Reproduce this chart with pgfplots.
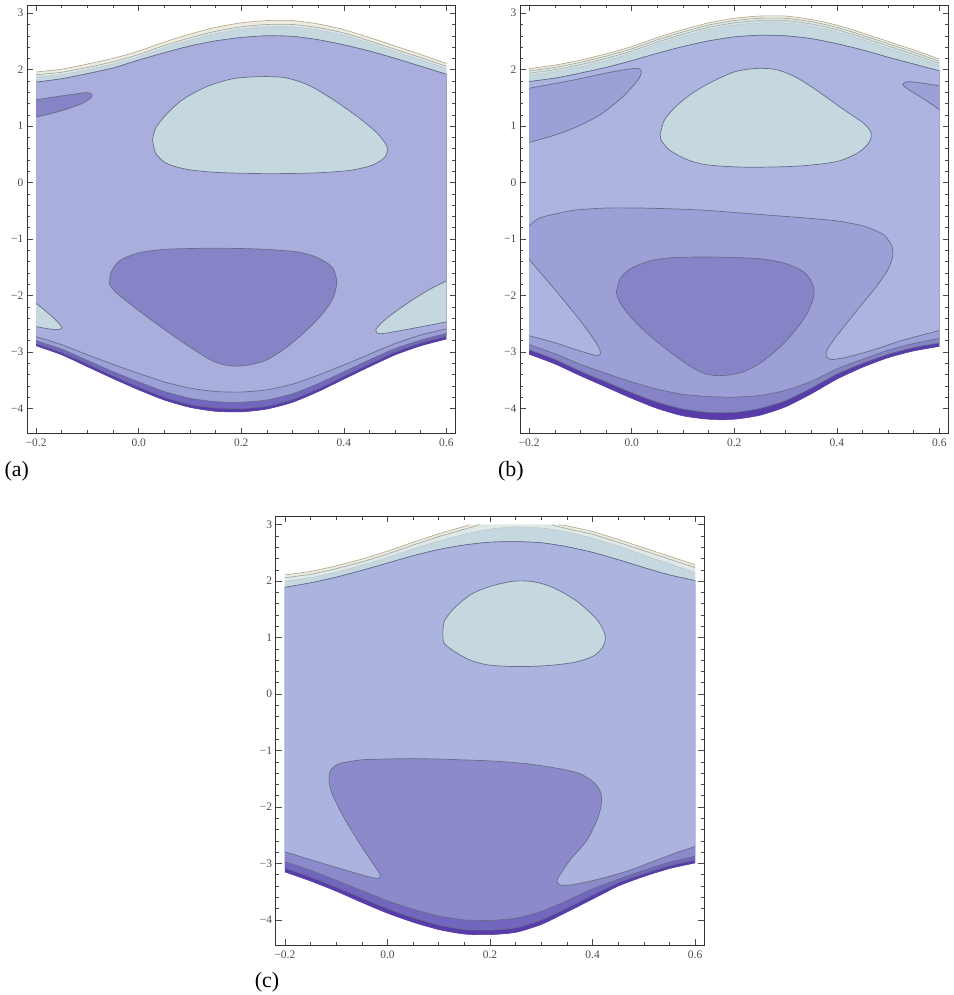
\documentclass[border=0pt]{standalone}
\usepackage{fontspec}
\setmainfont{Liberation Serif}
\usepackage{pgfplots}
\pgfplotsset{compat=1.18}
\usepgfplotslibrary{fillbetween}

\definecolor{cT0}{HTML}{EEEBE0}
\definecolor{cT1}{HTML}{DFE8E6}
\definecolor{cT2}{HTML}{C5D8E0}
\definecolor{cMainA}{HTML}{A9AEDC}
\definecolor{cMainB}{HTML}{ADB4E0}
\definecolor{cMainC}{HTML}{ACB3DF}
\definecolor{cMed}{HTML}{9DA0D7}
\definecolor{cDark}{HTML}{8783C7}
\definecolor{cDarkC}{HTML}{8D8ACB}
\definecolor{cB1}{HTML}{7266BE}
\definecolor{cB0}{HTML}{583CAA}
\definecolor{lTan}{HTML}{B0A48A}
\definecolor{lGreen}{HTML}{98A69E}
\definecolor{lCont}{HTML}{646E88}

\pgfplotsset{
 panel/.style={scale only axis, width=430pt, height=430pt, anchor=south west,
   xmin=-0.218, xmax=0.618, ymin=-4.447, ymax=3.146,
   xtick={-0.2,0,0.2,0.4,0.6}, xticklabels={−0.2,0.0,0.2,0.4,0.6},
   ytick={-4,-3,-2,-1,0,1,2,3}, yticklabels={−4,−3,−2,−1,0,1,2,3},
   minor x tick num=3, minor y tick num=4,
   tick align=inside, major tick length=6pt, minor tick length=3.5pt,
   every tick/.style={black!70, line width=0.6pt},
   axis line style={black!80, line width=0.8pt},
   tick label style={font=\fontsize{11.5}{11.5}\selectfont, text=black!70},
   xticklabel style={yshift=-2pt},
   no markers, clip=true,
 },
 cl/.style={draw=lCont, line width=0.7pt, smooth, tension=0.4},
 sm/.style={smooth, tension=0.4},
 isl/.style={draw=lCont, line width=0.7pt, smooth, tension=0.5},
}

\begin{document}
\begin{tikzpicture}
\path (0pt,0pt) rectangle (956pt,-995pt);

% ---------------- (a) ----------------
\begin{axis}[panel, at={(27pt,-435pt)}]
\addplot[sm, draw=lTan, line width=0.6pt, name path=aT0] coordinates {(-0.2,1.96) (-0.15,2.01) (-0.1,2.10) (-0.05,2.20) (0,2.33) (0.05,2.49) (0.1,2.63) (0.15,2.75) (0.2,2.83) (0.25,2.87) (0.3,2.87) (0.35,2.81) (0.4,2.71) (0.45,2.57) (0.5,2.42) (0.55,2.27) (0.6,2.11)};
\addplot[sm, draw=lGreen, line width=0.6pt, name path=aT1] coordinates {(-0.2,1.91) (-0.15,1.955) (-0.1,2.04) (-0.05,2.14) (0,2.27) (0.05,2.43) (0.1,2.565) (0.15,2.68) (0.2,2.76) (0.25,2.80) (0.3,2.80) (0.35,2.745) (0.4,2.65) (0.45,2.51) (0.5,2.36) (0.55,2.215) (0.6,2.06)};
\addplot[sm, draw=lCont!40, line width=0.5pt, name path=aT2] coordinates {(-0.2,1.87) (-0.15,1.915) (-0.1,2.0) (-0.05,2.10) (0,2.23) (0.05,2.39) (0.1,2.525) (0.15,2.64) (0.2,2.72) (0.25,2.76) (0.3,2.76) (0.35,2.705) (0.4,2.61) (0.45,2.47) (0.5,2.32) (0.55,2.175) (0.6,2.02)};
\addplot[cl, name path=aT3] coordinates {(-0.2,1.78) (-0.15,1.84) (-0.1,1.93) (-0.05,2.03) (0,2.17) (0.05,2.30) (0.1,2.42) (0.15,2.51) (0.2,2.57) (0.25,2.60) (0.3,2.59) (0.35,2.53) (0.4,2.44) (0.45,2.33) (0.5,2.20) (0.55,2.06) (0.6,1.92)};
\addplot[cl, name path=aBm] coordinates {(-0.2,-2.73) (-0.15,-2.87) (-0.1,-3.05) (-0.05,-3.22) (0,-3.38) (0.05,-3.53) (0.1,-3.64) (0.15,-3.70) (0.2,-3.71) (0.25,-3.67) (0.3,-3.57) (0.35,-3.41) (0.4,-3.23) (0.45,-3.04) (0.5,-2.85) (0.55,-2.70) (0.6,-2.59)};
\addplot[cl, name path=aB2] coordinates {(-0.2,-2.80) (-0.15,-2.95) (-0.1,-3.15) (-0.05,-3.35) (0,-3.53) (0.05,-3.70) (0.1,-3.82) (0.15,-3.88) (0.2,-3.89) (0.25,-3.85) (0.3,-3.74) (0.35,-3.56) (0.4,-3.35) (0.45,-3.14) (0.5,-2.94) (0.55,-2.79) (0.6,-2.67)};
\addplot[cl, name path=aB1] coordinates {(-0.2,-2.85) (-0.15,-3.01) (-0.1,-3.21) (-0.05,-3.42) (0,-3.62) (0.05,-3.80) (0.1,-3.93) (0.15,-3.99) (0.2,-4.00) (0.25,-3.96) (0.3,-3.84) (0.35,-3.65) (0.4,-3.43) (0.45,-3.21) (0.5,-3.00) (0.55,-2.84) (0.6,-2.72)};
\addplot[sm, draw=cB0, line width=0.6pt, name path=aB0] coordinates {(-0.2,-2.89) (-0.15,-3.05) (-0.1,-3.26) (-0.05,-3.47) (0,-3.67) (0.05,-3.85) (0.1,-3.98) (0.15,-4.05) (0.2,-4.06) (0.25,-4.01) (0.3,-3.89) (0.35,-3.70) (0.4,-3.48) (0.45,-3.26) (0.5,-3.05) (0.55,-2.89) (0.6,-2.77)};
\addplot[fill=cT0, draw=none] fill between[of=aT0 and aB0];
\addplot[fill=cT1, draw=none] fill between[of=aT1 and aB0];
\addplot[fill=cT2, draw=none] fill between[of=aT2 and aB0];
\addplot[fill=cB0, draw=none] fill between[of=aT3 and aB0];
\addplot[fill=cB1, draw=none] fill between[of=aT3 and aB1];
\addplot[fill=cMed, draw=none] fill between[of=aT3 and aB2];
\addplot[fill=cMainA, draw=none] fill between[of=aT3 and aBm];
% islands
\addplot[isl, fill=cT2] coordinates {(0.027,0.76) (0.033,0.965) (0.053,1.20) (0.085,1.465) (0.130,1.69) (0.181,1.835) (0.233,1.876) (0.284,1.86) (0.330,1.73) (0.375,1.494) (0.426,1.171) (0.465,0.876) (0.484,0.641) (0.481,0.465) (0.458,0.318) (0.413,0.218) (0.342,0.171) (0.246,0.159) (0.149,0.182) (0.091,0.241) (0.053,0.347) (0.033,0.524) (0.027,0.76)};
\addplot[isl, fill=cDark] coordinates {(-0.2,1.465) (-0.173,1.506) (-0.141,1.547) (-0.115,1.582) (-0.099,1.594) (-0.091,1.559) (-0.094,1.494) (-0.112,1.394) (-0.141,1.30) (-0.173,1.218) (-0.2,1.159)};
\addplot[isl, fill=cT2] coordinates {(-0.2,-2.14) (-0.186,-2.24) (-0.167,-2.39) (-0.153,-2.52) (-0.150,-2.58) (-0.160,-2.605) (-0.179,-2.585) (-0.2,-2.55)};
\addplot[isl, fill=cT2] coordinates {(0.6,-1.741) (0.568,-1.888) (0.536,-2.065) (0.503,-2.271) (0.478,-2.447) (0.463,-2.594) (0.465,-2.665) (0.478,-2.671) (0.516,-2.612) (0.568,-2.524) (0.6,-2.465)};
\addplot[isl, fill=cDark] coordinates {(-0.057,-1.80) (-0.054,-1.594) (-0.038,-1.388) (0.001,-1.241) (0.053,-1.182) (0.117,-1.165) (0.181,-1.165) (0.246,-1.182) (0.310,-1.229) (0.349,-1.329) (0.378,-1.506) (0.386,-1.771) (0.378,-2.065) (0.355,-2.359) (0.323,-2.653) (0.284,-2.947) (0.246,-3.153) (0.207,-3.241) (0.175,-3.241) (0.143,-3.153) (0.091,-2.859) (0.040,-2.535) (-0.012,-2.182) (-0.044,-1.947) (-0.057,-1.80)};
\end{axis}

% ---------------- (b) ----------------
\begin{axis}[panel, at={(521.5pt,-435pt)}]
\addplot[sm, draw=lTan, line width=0.6pt, name path=bT0] coordinates {(-0.2,2.02) (-0.15,2.08) (-0.1,2.17) (-0.05,2.28) (0,2.41) (0.05,2.57) (0.1,2.71) (0.15,2.83) (0.2,2.91) (0.25,2.95) (0.3,2.95) (0.35,2.89) (0.4,2.79) (0.45,2.65) (0.5,2.50) (0.55,2.35) (0.6,2.19)};
\addplot[sm, draw=lGreen, line width=0.6pt, name path=bT1] coordinates {(-0.2,1.98) (-0.15,2.04) (-0.1,2.13) (-0.05,2.24) (0,2.37) (0.05,2.53) (0.1,2.67) (0.15,2.79) (0.2,2.87) (0.25,2.91) (0.3,2.91) (0.35,2.85) (0.4,2.75) (0.45,2.61) (0.5,2.46) (0.55,2.31) (0.6,2.15)};
\addplot[sm, draw=lGreen, line width=0.5pt, name path=bT1b] coordinates {(-0.2,1.94) (-0.15,2.00) (-0.1,2.09) (-0.05,2.20) (0,2.33) (0.05,2.49) (0.1,2.63) (0.15,2.75) (0.2,2.83) (0.25,2.87) (0.3,2.87) (0.35,2.81) (0.4,2.71) (0.45,2.57) (0.5,2.42) (0.55,2.27) (0.6,2.11)};
\addplot[sm, draw=lCont!40, line width=0.5pt, name path=bT2] coordinates {(-0.2,1.90) (-0.15,1.96) (-0.1,2.05) (-0.05,2.16) (0,2.29) (0.05,2.45) (0.1,2.59) (0.15,2.71) (0.2,2.79) (0.25,2.83) (0.3,2.83) (0.35,2.77) (0.4,2.67) (0.45,2.53) (0.5,2.38) (0.55,2.23) (0.6,2.07)};
\addplot[cl, name path=bT3] coordinates {(-0.2,1.79) (-0.15,1.85) (-0.1,1.94) (-0.05,2.04) (0,2.16) (0.05,2.29) (0.1,2.41) (0.15,2.51) (0.2,2.58) (0.25,2.61) (0.3,2.60) (0.35,2.55) (0.4,2.46) (0.45,2.35) (0.5,2.22) (0.55,2.10) (0.6,1.98)};
\addplot[cl, name path=bBm] coordinates {(-0.2,-0.77) (-0.178,-0.62) (-0.113,-0.49) (-0.049,-0.45) (0.015,-0.45) (0.080,-0.465) (0.144,-0.49) (0.208,-0.535) (0.272,-0.58) (0.337,-0.625) (0.401,-0.68) (0.452,-0.77) (0.491,-0.92) (0.507,-1.12) (0.509,-1.30) (0.500,-1.535) (0.478,-1.83) (0.452,-2.12) (0.420,-2.48) (0.395,-2.77) (0.380,-2.98) (0.380,-3.09) (0.391,-3.135) (0.420,-3.09) (0.465,-2.98) (0.529,-2.79) (0.6,-2.62)};
\addplot[cl, name path=bB2] coordinates {(-0.2,-2.87) (-0.15,-3.03) (-0.1,-3.22) (-0.05,-3.38) (0,-3.53) (0.05,-3.66) (0.1,-3.75) (0.15,-3.79) (0.2,-3.80) (0.25,-3.77) (0.3,-3.68) (0.35,-3.52) (0.4,-3.30) (0.45,-3.13) (0.5,-2.97) (0.55,-2.85) (0.6,-2.76)};
\addplot[cl, name path=bB1] coordinates {(-0.2,-2.96) (-0.15,-3.13) (-0.1,-3.34) (-0.05,-3.53) (0,-3.72) (0.05,-3.89) (0.1,-4.01) (0.15,-4.07) (0.2,-4.07) (0.25,-4.0) (0.3,-3.86) (0.35,-3.64) (0.4,-3.39) (0.45,-3.20) (0.5,-3.04) (0.55,-2.92) (0.6,-2.84)};
\addplot[sm, draw=cB0, line width=0.6pt, name path=bB0] coordinates {(-0.2,-3.04) (-0.15,-3.21) (-0.1,-3.42) (-0.05,-3.62) (0,-3.82) (0.05,-4.0) (0.1,-4.13) (0.15,-4.19) (0.2,-4.19) (0.25,-4.12) (0.3,-3.97) (0.35,-3.74) (0.4,-3.48) (0.45,-3.27) (0.5,-3.10) (0.55,-2.98) (0.6,-2.90)};
\addplot[fill=cT0, draw=none] fill between[of=bT0 and bB0];
\addplot[fill=cT1, draw=none] fill between[of=bT1 and bB0];
\addplot[fill=cT1!60!cT2, draw=none] fill between[of=bT1b and bB0];
\addplot[fill=cT2, draw=none] fill between[of=bT2 and bB0];
\addplot[fill=cB0, draw=none] fill between[of=bT3 and bB0];
\addplot[fill=cDark, draw=none] fill between[of=bT3 and bB1];
\addplot[fill=cMed, draw=none] fill between[of=bT3 and bB2];
\addplot[fill=cMainB, draw=none] fill between[of=bT3 and bBm];
% islands
\addplot[isl, fill=cMed] coordinates {(-0.2,1.671) (-0.113,1.818) (-0.036,1.965) (0.009,2.024) (0.0185,1.965) (0.012,1.818) (-0.017,1.524) (-0.062,1.20) (-0.113,0.965) (-0.158,0.818) (-0.2,0.712)};
\addplot[isl, fill=cMed] coordinates {(0.6,1.712) (0.568,1.759) (0.539,1.788) (0.529,1.747) (0.536,1.671) (0.562,1.524) (0.587,1.376) (0.6,1.288)};
\addplot[isl, fill=cT2] coordinates {(0.056,0.876) (0.064,1.112) (0.086,1.347) (0.118,1.582) (0.157,1.788) (0.202,1.965) (0.247,2.024) (0.285,1.994) (0.324,1.847) (0.369,1.582) (0.414,1.288) (0.452,1.053) (0.467,0.876) (0.462,0.70) (0.440,0.524) (0.401,0.376) (0.337,0.30) (0.272,0.276) (0.208,0.276) (0.144,0.318) (0.105,0.418) (0.073,0.582) (0.057,0.759) (0.056,0.876)};
\addplot[isl, fill=cMainB] coordinates {(-0.2,-1.359) (-0.178,-1.594) (-0.145,-1.947) (-0.113,-2.30) (-0.088,-2.594) (-0.068,-2.859) (-0.061,-3.006) (-0.065,-3.065) (-0.081,-3.035) (-0.113,-2.947) (-0.152,-2.829) (-0.2,-2.712)};
\addplot[isl, fill=cDark] coordinates {(-0.030,-1.947) (-0.023,-1.712) (-0.004,-1.535) (0.035,-1.388) (0.080,-1.329) (0.144,-1.318) (0.208,-1.329) (0.260,-1.359) (0.305,-1.447) (0.337,-1.594) (0.353,-1.80) (0.355,-2.006) (0.343,-2.30) (0.321,-2.594) (0.292,-2.888) (0.253,-3.182) (0.215,-3.359) (0.176,-3.418) (0.144,-3.388) (0.112,-3.241) (0.067,-2.947) (0.028,-2.653) (-0.004,-2.359) (-0.023,-2.124) (-0.030,-1.947)};
\end{axis}

% ---------------- (c) ----------------
\begin{axis}[panel, at={(276.5pt,-948pt)}]
\addplot[draw=none, name path=cT0] coordinates {(-0.2,2.11) (-0.15,2.17) (-0.1,2.27) (-0.05,2.39) (0,2.53) (0.05,2.69) (0.1,2.84) (0.15,2.97) (0.16,3.0) (0.335,3.0) (0.35,2.98) (0.4,2.88) (0.45,2.74) (0.5,2.59) (0.55,2.44) (0.6,2.29)};
\addplot[draw=none, name path=cT1] coordinates {(-0.2,2.06) (-0.15,2.12) (-0.1,2.22) (-0.05,2.34) (0,2.48) (0.05,2.64) (0.1,2.79) (0.15,2.92) (0.18,3.0) (0.32,3.0) (0.35,2.93) (0.4,2.83) (0.45,2.69) (0.5,2.54) (0.55,2.39) (0.6,2.24)};
\addplot[draw=lTan, line width=0.6pt] coordinates {(-0.2,2.11) (-0.15,2.17) (-0.1,2.27) (-0.05,2.39) (0,2.53) (0.05,2.69) (0.1,2.84) (0.15,2.97) (0.16,3.0)};
\addplot[draw=lTan, line width=0.6pt] coordinates {(0.335,3.0) (0.35,2.98) (0.4,2.88) (0.45,2.74) (0.5,2.59) (0.55,2.44) (0.6,2.29)};
\addplot[draw=lGreen, line width=0.6pt] coordinates {(-0.2,2.06) (-0.15,2.12) (-0.1,2.22) (-0.05,2.34) (0,2.48) (0.05,2.64) (0.1,2.79) (0.15,2.92) (0.18,3.0)};
\addplot[draw=lGreen, line width=0.6pt] coordinates {(0.32,3.0) (0.35,2.93) (0.4,2.83) (0.45,2.69) (0.5,2.54) (0.55,2.39) (0.6,2.24)};
\addplot[sm, draw=lCont!40, line width=0.5pt, name path=cT2] coordinates {(-0.2,2.0) (-0.15,2.06) (-0.1,2.16) (-0.05,2.28) (0,2.42) (0.05,2.57) (0.1,2.71) (0.15,2.83) (0.2,2.92) (0.25,2.96) (0.3,2.94) (0.35,2.87) (0.4,2.76) (0.45,2.62) (0.5,2.46) (0.55,2.31) (0.6,2.15)};
\addplot[cl, name path=cT3] coordinates {(-0.2,1.89) (-0.15,1.97) (-0.1,2.07) (-0.05,2.19) (0,2.32) (0.05,2.45) (0.1,2.56) (0.15,2.64) (0.2,2.69) (0.25,2.70) (0.3,2.68) (0.35,2.61) (0.4,2.51) (0.45,2.38) (0.5,2.24) (0.55,2.11) (0.6,2.01)};
\addplot[cl, name path=cBm] coordinates {(-0.2,-2.794) (-0.147,-2.941) (-0.082,-3.118) (-0.037,-3.235) (-0.018,-3.265) (-0.014,-3.206) (-0.024,-3.059) (-0.050,-2.706) (-0.082,-2.235) (-0.108,-1.765) (-0.114,-1.529) (-0.111,-1.353) (-0.095,-1.235) (-0.050,-1.165) (0.015,-1.147) (0.079,-1.147) (0.144,-1.165) (0.208,-1.188) (0.273,-1.235) (0.337,-1.324) (0.376,-1.412) (0.402,-1.559) (0.414,-1.706) (0.418,-1.882) (0.411,-2.176) (0.389,-2.588) (0.356,-2.941) (0.334,-3.235) (0.331,-3.324) (0.337,-3.382) (0.356,-3.382) (0.402,-3.30) (0.466,-3.14) (0.531,-2.92) (0.563,-2.81) (0.6,-2.70)};
\addplot[cl, name path=cB2] coordinates {(-0.2,-2.97) (-0.15,-3.12) (-0.1,-3.30) (-0.05,-3.48) (0,-3.66) (0.05,-3.81) (0.1,-3.93) (0.15,-4.0) (0.2,-4.01) (0.25,-3.97) (0.3,-3.85) (0.35,-3.66) (0.4,-3.45) (0.45,-3.28) (0.5,-3.12) (0.55,-2.98) (0.6,-2.87)};
\addplot[cl, name path=cB1] coordinates {(-0.2,-3.08) (-0.15,-3.24) (-0.1,-3.42) (-0.05,-3.61) (0,-3.80) (0.05,-3.96) (0.1,-4.09) (0.15,-4.17) (0.2,-4.18) (0.25,-4.14) (0.3,-4.00) (0.35,-3.79) (0.4,-3.56) (0.45,-3.34) (0.5,-3.18) (0.55,-3.04) (0.6,-2.94)};
\addplot[sm, draw=cB0, line width=0.6pt, name path=cB0] coordinates {(-0.2,-3.15) (-0.15,-3.31) (-0.1,-3.49) (-0.05,-3.69) (0,-3.88) (0.05,-4.04) (0.1,-4.17) (0.15,-4.25) (0.2,-4.26) (0.25,-4.22) (0.3,-4.08) (0.35,-3.86) (0.4,-3.63) (0.45,-3.40) (0.5,-3.23) (0.55,-3.09) (0.6,-2.99)};
\addplot[fill=cT0, draw=none] fill between[of=cT0 and cB0];
\addplot[fill=cT1, draw=none] fill between[of=cT1 and cB0];
\addplot[fill=cT2, draw=none] fill between[of=cT2 and cB0];
\addplot[fill=cB0, draw=none] fill between[of=cT3 and cB0];
\addplot[fill=cB1, draw=none] fill between[of=cT3 and cB1];
\addplot[fill=cDarkC, draw=none] fill between[of=cT3 and cB2];
\addplot[fill=cMainC, draw=none] fill between[of=cT3 and cBm];
\addplot[isl, fill=cT2] coordinates {(0.108,1.059) (0.111,1.294) (0.131,1.529) (0.163,1.765) (0.202,1.912) (0.247,2.0) (0.286,1.988) (0.324,1.882) (0.369,1.647) (0.408,1.324) (0.424,1.059) (0.421,0.853) (0.402,0.676) (0.363,0.559) (0.305,0.50) (0.247,0.488) (0.195,0.518) (0.157,0.618) (0.124,0.794) (0.110,0.912) (0.108,1.059)};
\end{axis}

\node[anchor=base west, font=\fontsize{22}{22}\selectfont] at (1pt,-478pt) {(a)};
\node[anchor=base west, font=\fontsize{22}{22}\selectfont] at (496pt,-478pt) {(b)};
\node[anchor=base west, font=\fontsize{22}{22}\selectfont] at (252pt,-990pt) {(c)};
\end{tikzpicture}
\end{document}
